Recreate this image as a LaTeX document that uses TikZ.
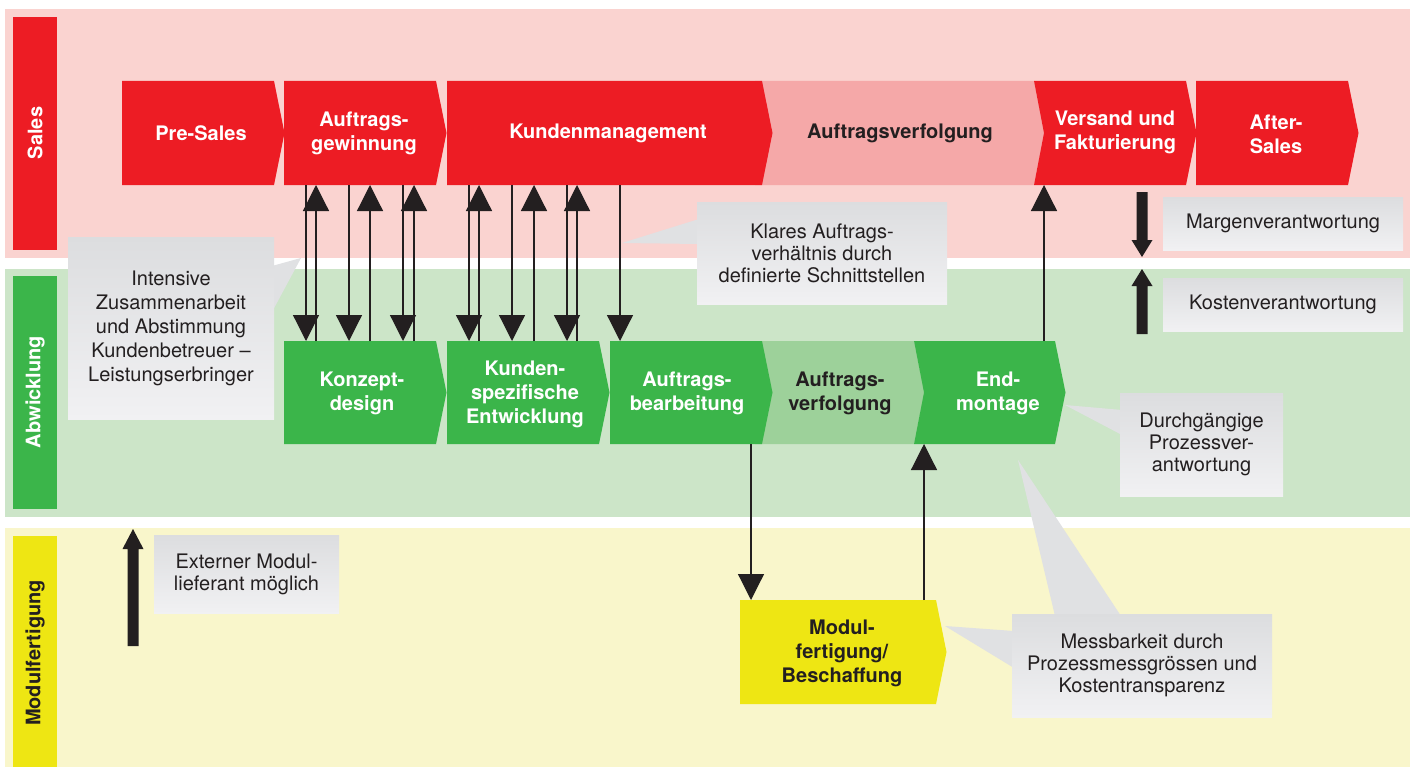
\documentclass[tikz,border=0pt]{standalone}
\usepackage{fontspec}
\setmainfont{TeX Gyre Heros}
\usetikzlibrary{arrows.meta,calc,fit}
\definecolor{bandR}{HTML}{FAD3D0}
\definecolor{bandG}{HTML}{CCE5C8}
\definecolor{bandY}{HTML}{F9F6CB}
\definecolor{cRed}{HTML}{ED1C24}
\definecolor{cPink}{HTML}{F5A8A8}
\definecolor{cGreen}{HTML}{3BB54A}
\definecolor{cLGreen}{HTML}{9DD19A}
\definecolor{cYellow}{HTML}{EEE613}
\definecolor{cDark}{HTML}{231F20}
\definecolor{gTop}{HTML}{DCDDDF}
\definecolor{gBot}{HTML}{F1F1F3}
\pgfdeclarelayer{bands}
\pgfdeclarelayer{fills}
\pgfsetlayers{bands,fills,main}
\newcommand\chevFill[2]{%
  \begin{pgfonlayer}{fills}
  \fill[#2] (#1.north west) -- (#1.north east) -- ($(#1.east)+(10.5,0)$) -- (#1.south east) -- (#1.south west) -- cycle;
  \end{pgfonlayer}}
\newcommand\chevNotch[2]{%
  \begin{pgfonlayer}{fills}
  \fill[#2] (#1.north west) -- (#1.north east) -- ($(#1.east)+(10.5,0)$) -- (#1.south east) -- (#1.south west) -- ($(#1.west)+(10,0)$) -- cycle;
  \end{pgfonlayer}}
\begin{document}
\begin{tikzpicture}[x=0.75pt,y=-0.75pt,
  area/.style={inner sep=0pt,outer sep=0pt,draw=none},
  lbl/.style={font=\bfseries\fontsize{15}{18}\selectfont,align=center,inner sep=0pt},
  wlbl/.style={lbl,text=white},
  dlbl/.style={lbl,text=cDark},
  bandlbl/.style={font=\bfseries\fontsize{15}{18}\selectfont,rotate=90,inner sep=0pt},
  note/.style={inner sep=0pt,outer sep=0pt,top color=gTop,bottom color=gBot,draw=none},
  notetext/.style={inner sep=0pt,font=\fontsize{15}{16.5}\selectfont,align=center,text=cDark},
  ptr/.style={fill=gTop!80!gBot},
  link/.style={draw=cDark,line width=0.9pt,-{Triangle[width=19.5pt,length=19.5pt]}},
  fat/.style={fill=cDark}]
\useasboundingbox (0,0) rectangle (1414,767);
\begin{pgfonlayer}{bands}
\fill[white] (0,0) rectangle (1414,767);
\fill[bandR] (5,9) rectangle (1410,258);
\fill[bandG] (5,269) rectangle (1410,517);
\fill[bandY] (5,528) rectangle (1410,767);
\end{pgfonlayer}

% band labels
\node[area,fit={(13,17) (57,250)},fill=cRed] (salesbar) {};
\node[bandlbl,text=white] (salesT) at (35,133) {Sales};
\node[area,fit={(13,276) (57,509)},fill=cGreen] (abwbar) {};
\node[bandlbl,text=white] (abwT) at (35,392) {Abwicklung};
\node[area,fit={(13,536) (57,767)},fill=cYellow] (modbar) {};
\node[bandlbl,text=cDark] (modT) at (35,653) {Modulfertigung};

% top row
\node[area,fit={(755,81) (1034,185)}] (pinkv) {};
\chevFill{pinkv}{cPink}
\node[area,fit={(122,81) (274,185)}] (pre) {};
\chevFill{pre}{cRed}
\node[area,fit={(284,81) (436,185)}] (gew) {};
\chevFill{gew}{cRed}
\node[area,fit={(447,81) (762,185)}] (kund) {};
\chevFill{kund}{cRed}
\node[area,fit={(1034,81) (1186,185)}] (vers) {};
\chevNotch{vers}{cRed}
\node[area,fit={(1196,81) (1348,185)}] (after) {};
\chevFill{after}{cRed}

\node[wlbl] (preT) at (201,133) {Pre-Sales};
\node[wlbl] (gewT) at (364,133) {Auftrags-\\gewinnung};
\node[wlbl] (kundT) at (608,133) {Kundenmanagement};
\node[dlbl] (pinkT) at (900,133) {Auftragsverfolgung};
\node[wlbl] (versT) at (1115,132) {Versand und\\Fakturierung};
\node[wlbl] (afterT) at (1276,134) {After-\\Sales};

% green row
\node[area,fit={(755,341) (914,444)}] (averf) {};
\chevFill{averf}{cLGreen}
\node[area,fit={(284,341) (436,444)}] (konz) {};
\chevFill{konz}{cGreen}
\node[area,fit={(447,341) (599,444)}] (kspez) {};
\chevFill{kspez}{cGreen}
\node[area,fit={(610,341) (762,444)}] (abearb) {};
\chevFill{abearb}{cGreen}
\node[area,fit={(914,341) (1055,444)}] (endm) {};
\chevNotch{endm}{cGreen}

\node[wlbl] (konzT) at (362,393) {Konzept-\\design};
\node[wlbl] (kspezT) at (525,394) {Kunden-\\spezifische\\Entwicklung};
\node[wlbl] (abearbT) at (687,393) {Auftrags-\\bearbeitung};
\node[dlbl] (averfT) at (840,393) {Auftrags-\\verfolgung};
\node[wlbl] (endmT) at (998,393) {End-\\montage};

% yellow
\node[area,fit={(740,600) (936,704)}] (modul) {};
\chevFill{modul}{cYellow}
\node[dlbl] (modulT) at (842,653) {Modul-\\fertigung/\\Beschaffung};

% callout pointers
\begin{pgfonlayer}{fills}
\fill[ptr] (301,258) -- (272,266) -- (272,312) -- cycle;
\fill[ptr] (622,243) -- (699,219) -- (699,244) -- cycle;
\fill[ptr] (1065,405) -- (1122,410) -- (1122,435) -- cycle;
\fill[ptr] (945,626) -- (1014,631) -- (1014,668) -- cycle;
\fill[ptr] (1018,460) -- (1055,616) -- (1121,616) -- cycle;
\end{pgfonlayer}

% callouts
\node[note,fit={(68,237) (274,419)}] (intens) {};
\node[notetext,font=\fontsize{15}{18}\selectfont] (intensT) at (intens.center)
  {Intensive\\Zusammenarbeit\\und Abstimmung\\Kundenbetreuer --\\Leistungserbringer};
\node[note,fit={(697,202) (947,304)}] (klares) {};
\node[notetext] (klaresT) at (klares.center)
  {Klares Auftrags-\\verhältnis durch\\definierte Schnittstellen};
\node[note,fit={(1163,197) (1403,250)}] (margen) {};
\node[notetext] (margenT) at (margen.center) {Margenverantwortung};
\node[note,fit={(1163,278) (1403,331)}] (kosten) {};
\node[notetext] (kostenT) at (kosten.center) {Kostenverantwortung};
\node[note,fit={(1120,393) (1283,496)}] (durch) {};
\node[notetext] (durchT) at (durch.center) {Durchgängige\\Prozessver-\\antwortung};
\node[note,fit={(154,535) (339,613)}] (extern) {};
\node[notetext] (externT) at (extern.center) {Externer Modul-\\lieferant möglich};
\node[note,fit={(1012,614) (1272,717)}] (mess) {};
\node[notetext] (messT) at (mess.center)
  {Messbarkeit durch\\Prozessmessgrössen und\\Kostentransparenz};

% thick arrows
\fill[fat] (1136.5,192) -- (1147.5,192) -- (1147.5,240) -- (1152.5,240) -- (1142,257) -- (1131.5,240) -- (1136.5,240) -- cycle;
\fill[fat] (1136.5,334) -- (1147.5,334) -- (1147.5,286) -- (1152.5,286) -- (1142,269) -- (1131.5,286) -- (1136.5,286) -- cycle;
\fill[fat] (127.5,646) -- (138.5,646) -- (138.5,549) -- (143.5,549) -- (133,529) -- (122.5,549) -- (127.5,549) -- cycle;

% connectors
\foreach \o in {22,65,119}
  \draw[link] ($(gew.south west)+(\o,0)$) -- ($(konz.north west)+(\o,0)$);
\foreach \o in {32,86,130}
  \draw[link] ($(konz.north west)+(\o,0)$) -- ($(gew.south west)+(\o,0)$);
\foreach \o in {22,65,120}
  \draw[link] ($(kund.south west)+(\o,0)$) -- ($(kspez.north west)+(\o,0)$);
\foreach \o in {32,87,130}
  \draw[link] ($(kspez.north west)+(\o,0)$) -- ($(kund.south west)+(\o,0)$);
\draw[link] ($(kund.south west)+(173,0)$) -- ($(abearb.north west)+(10,0)$);
\draw[link] ($(endm.north west)+(130,0)$) -- ($(vers.south west)+(10,0)$);
\draw[link] ($(abearb.south west)+(141,0)$) -- ($(modul.north west)+(11,0)$);
\draw[link] ($(modul.north west)+(184,0)$) -- ($(endm.south west)+(10,0)$);
\end{tikzpicture}
\end{document}
